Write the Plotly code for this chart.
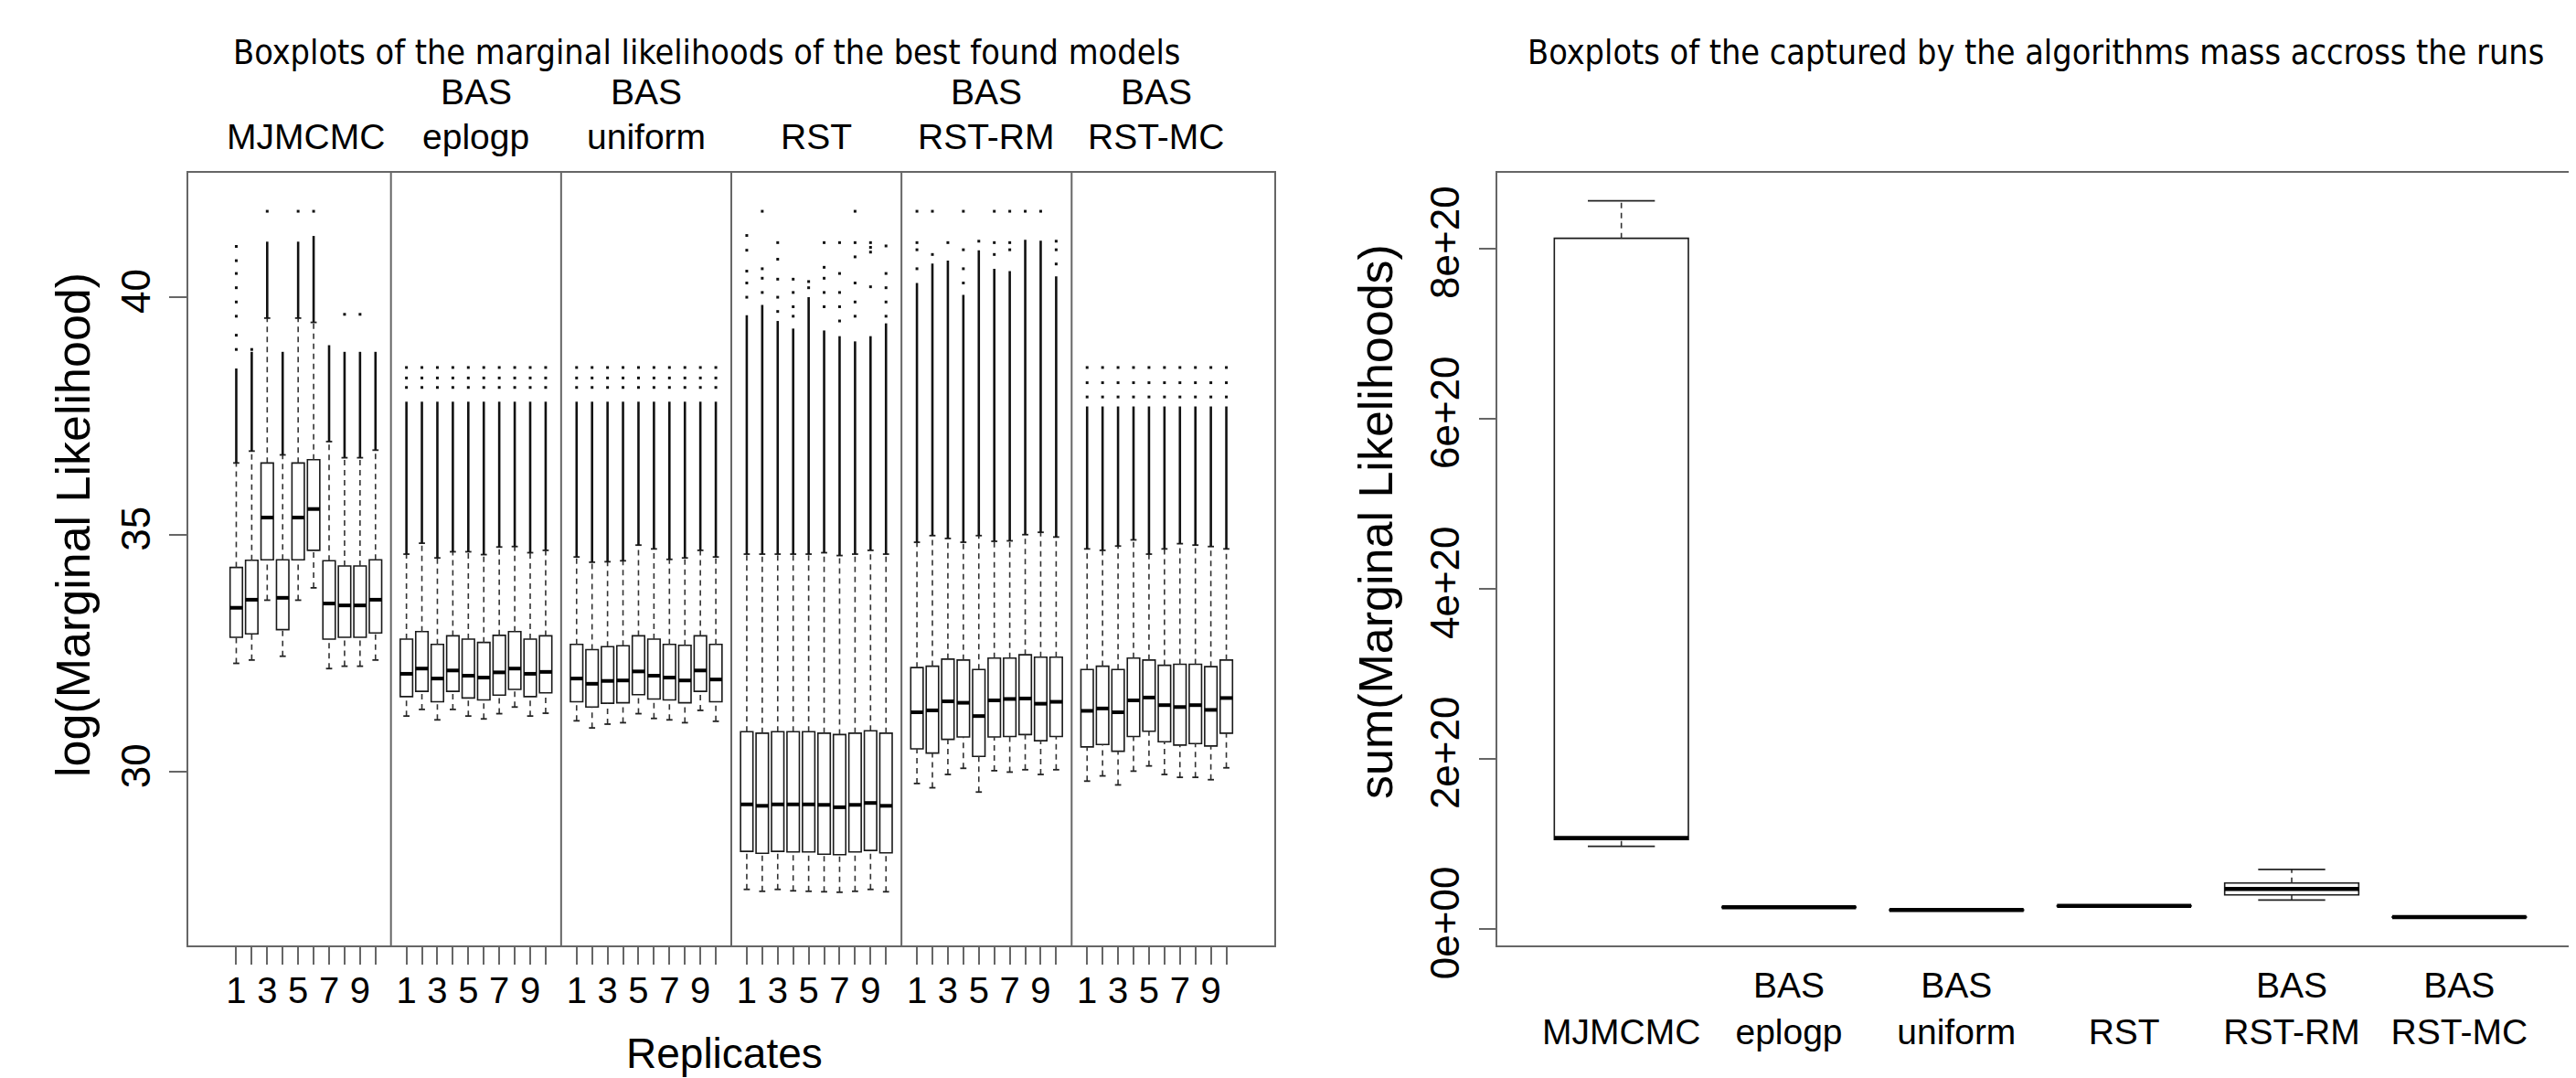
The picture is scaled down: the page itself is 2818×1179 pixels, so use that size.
import plotly.graph_objects as go

# ---------------- data: left panel (log marginal likelihoods, 6 algorithms x 10 replicates) ----------------
group_line1 = ["", "BAS", "BAS", "", "BAS", "BAS"]
group_line2 = ["MJMCMC", "eplogp", "uniform", "RST", "RST-RM", "RST-MC"]
replicates = [1, 2, 3, 4, 5, 6, 7, 8, 9, 10]
labelled_replicates = [1, 3, 5, 7, 9]

lw = [32.29, 32.36, 33.62, 32.44, 33.62, 33.88, 32.18, 32.23, 32.23, 32.36,
      31.18, 31.32, 31.10, 31.32, 31.18, 31.12, 31.23, 31.37, 31.18, 31.24,
      31.08, 30.93, 31.01, 31.04, 31.23, 31.13, 31.10, 31.04, 31.30, 31.07,
      27.53, 27.49, 27.53, 27.50, 27.49, 27.48, 27.47, 27.49, 27.53, 27.48,
      29.76, 29.67, 29.95, 30.08, 29.58, 30.03, 30.00, 30.05, 29.95, 30.05,
      29.81, 29.92, 29.73, 30.02, 30.13, 29.95, 29.89, 29.89, 29.84, 30.09]
q1 = [32.84, 32.91, 34.47, 33.00, 34.47, 34.67, 32.80, 32.84, 32.84, 32.93,
      31.59, 31.70, 31.48, 31.70, 31.56, 31.52, 31.62, 31.74, 31.59, 31.67,
      31.48, 31.37, 31.45, 31.46, 31.63, 31.54, 31.52, 31.46, 31.70, 31.48,
      28.33, 28.29, 28.33, 28.32, 28.32, 28.27, 28.26, 28.32, 28.35, 28.30,
      30.49, 30.40, 30.69, 30.74, 30.33, 30.74, 30.75, 30.79, 30.66, 30.75,
      30.53, 30.58, 30.44, 30.75, 30.86, 30.64, 30.57, 30.60, 30.55, 30.82]
med = [33.46, 33.63, 35.36, 33.67, 35.36, 35.54, 33.55, 33.51, 33.51, 33.63,
       32.07, 32.18, 31.97, 32.14, 32.03, 31.99, 32.10, 32.18, 32.07, 32.11,
       31.97, 31.86, 31.92, 31.93, 32.12, 32.03, 31.99, 31.93, 32.14, 31.95,
       29.32, 29.29, 29.32, 29.32, 29.32, 29.31, 29.26, 29.31, 29.35, 29.29,
       31.26, 31.30, 31.49, 31.46, 31.18, 31.51, 31.54, 31.55, 31.44, 31.48,
       31.29, 31.34, 31.26, 31.51, 31.57, 31.41, 31.37, 31.41, 31.31, 31.56]
q3 = [34.31, 34.46, 36.51, 34.47, 36.51, 36.58, 34.45, 34.34, 34.34, 34.47,
      32.80, 32.96, 32.69, 32.87, 32.80, 32.73, 32.88, 32.96, 32.80, 32.87,
      32.69, 32.58, 32.64, 32.66, 32.87, 32.80, 32.69, 32.67, 32.87, 32.69,
      30.85, 30.82, 30.85, 30.85, 30.85, 30.82, 30.79, 30.82, 30.87, 30.82,
      32.20, 32.23, 32.38, 32.36, 32.16, 32.40, 32.40, 32.47, 32.42, 32.42,
      32.16, 32.23, 32.16, 32.40, 32.36, 32.25, 32.27, 32.27, 32.22, 32.36]
uw = [36.51, 36.76, 39.56, 36.68, 39.56, 39.47, 36.96, 36.62, 36.62, 36.78,
      34.59, 34.82, 34.51, 34.64, 34.64, 34.58, 34.74, 34.75, 34.62, 34.67,
      34.53, 34.42, 34.43, 34.45, 34.78, 34.70, 34.48, 34.51, 34.67, 34.53,
      34.59, 34.59, 34.59, 34.59, 34.59, 34.62, 34.56, 34.59, 34.67, 34.59,
      34.84, 34.98, 34.92, 34.84, 34.98, 34.86, 34.87, 35.00, 35.05, 34.95,
      34.70, 34.67, 34.76, 34.89, 34.59, 34.70, 34.81, 34.78, 34.75, 34.70]
# top of the dense (visually continuous) run of outliers
dense_top = [38.50, 38.85, 41.17, 38.85, 41.17, 41.29, 38.99, 38.85, 38.85, 38.85,
             37.80, 37.80, 37.80, 37.80, 37.80, 37.80, 37.80, 37.80, 37.80, 37.80,
             37.80, 37.80, 37.80, 37.80, 37.80, 37.80, 37.80, 37.80, 37.80, 37.80,
             39.62, 39.84, 39.50, 39.34, 40.00, 39.30, 39.18, 39.07, 39.18, 39.45,
             40.30, 40.71, 40.77, 40.05, 40.99, 40.60, 40.55, 41.21, 41.19, 40.44,
             37.70, 37.70, 37.70, 37.70, 37.70, 37.70, 37.70, 37.70, 37.70, 37.70]
# isolated outliers above the dense run
sparse_out = [
    [41.07, 40.77, 40.5, 40.2, 39.9, 39.6, 39.2, 38.9], [38.9], [41.81], [], [41.81],
    [41.81], [], [39.64], [39.64], [],
    [38.52, 38.3, 38.1], [38.52, 38.3, 38.1], [38.52, 38.3, 38.1], [38.52, 38.3, 38.1], [38.52, 38.3, 38.1],
    [38.52, 38.3, 38.1], [38.52, 38.3, 38.1], [38.52, 38.3, 38.1], [38.52, 38.3, 38.1], [38.52, 38.3, 38.1],
    [38.52, 38.3, 38.1], [38.52, 38.3, 38.1], [38.52, 38.3, 38.1], [38.52, 38.3, 38.1], [38.52, 38.3, 38.1],
    [38.52, 38.3, 38.1], [38.52, 38.3, 38.1], [38.52, 38.3, 38.1], [38.52, 38.3, 38.1], [38.52, 38.3, 38.1],
    [41.30, 40.99, 40.55, 40.3, 40.0], [41.81, 40.6, 40.4, 40.1], [41.15, 40.8, 40.38, 40.0, 39.7],
    [40.38, 40.1, 39.8, 39.6], [40.33, 40.2], [41.15, 40.63, 40.4, 40.1, 39.8],
    [41.15, 40.5, 40.1, 39.8, 39.5], [41.81, 41.15, 40.85, 40.3, 39.9, 39.6],
    [41.15, 41.05, 40.95, 40.22], [41.08, 40.5, 40.2, 39.9, 39.6],
    [41.81, 41.15, 41.0, 40.6], [41.81, 40.9], [41.15], [41.81, 41.0, 40.6, 40.3], [41.18],
    [41.81, 41.15, 40.9], [41.81, 41.15, 41.0], [41.81], [41.81], [41.18, 41.0, 40.7],
    [38.52, 38.2, 37.9], [38.52, 38.2, 37.9], [38.52, 38.2, 37.9], [38.52, 38.2, 37.9], [38.52, 38.2, 37.9],
    [38.52, 38.2, 37.9], [38.52, 38.2, 37.9], [38.52, 38.2, 37.9], [38.52, 38.2, 37.9], [38.52, 38.2, 37.9],
]

# ---------------- data: right panel (captured mass) ----------------
algos = ["<br>MJMCMC", "BAS<br>eplogp", "BAS<br>uniform", "<br>RST", "BAS<br>RST-RM", "BAS<br>RST-MC"]
mass_lw = [0.97e20, 0.248e20, 0.215e20, 0.265e20, 0.34e20, 0.135e20]
mass_q1 = [1.05e20, 0.252e20, 0.218e20, 0.268e20, 0.40e20, 0.138e20]
mass_med = [1.07e20, 0.255e20, 0.222e20, 0.270e20, 0.47e20, 0.140e20]
mass_q3 = [8.12e20, 0.258e20, 0.226e20, 0.273e20, 0.54e20, 0.142e20]
mass_uw = [8.56e20, 0.262e20, 0.230e20, 0.277e20, 0.70e20, 0.145e20]
mass_ticks = [0, 2e20, 4e20, 6e20, 8e20]
mass_tick_text = ["0e+00", "2e+20", "4e+20", "6e+20", "8e+20"]

# ---------------- styling ----------------
W, H = 2818, 1179
OFF = 8  # page body margin of the rendered html
FONT = "Liberation Sans, Arial, Helvetica, sans-serif"
TFONT = "DejaVu Sans Condensed, DejaVu Sans, sans-serif"
FRAME = "#666666"
BOXW = 0.8

n_rep = len(replicates)
n_grp = len(group_line2)
pos = [g * (n_rep + 1) + r for g in range(n_grp) for r in replicates]
lab_pos = [g * (n_rep + 1) + r for g in range(n_grp) for r in labelled_replicates]
lab_txt = [str(r) for g in range(n_grp) for r in labelled_replicates]
unlab_pos = [p for p in pos if p not in lab_pos]
group_centers = [sum(pos[g * n_rep:(g + 1) * n_rep]) / n_rep for g in range(n_grp)]
separators = [g * (n_rep + 1) + n_rep + 1 for g in range(n_grp - 1)]


def px_x(p):
    return (p - OFF) / W


def px_y(p):
    return 1 - (p - OFF) / H


fig = go.Figure()


def add_boxes(xs, lo, a, m, b, hi, xa, ya, bw, medw, dense=None, sparse=None):
    fig.add_trace(go.Box(
        x=xs, q1=a, median=m, q3=b, lowerfence=a, upperfence=b,
        width=bw, whiskerwidth=0, boxpoints=False,
        line=dict(color="#1a1a1a", width=1.6), fillcolor="white",
        xaxis=xa, yaxis=ya, showlegend=False, hoverinfo="skip"))
    # dashed whiskers
    wx, wy = [], []
    for x, l, q, t, u in zip(xs, lo, a, b, hi):
        wx += [x, x, None, x, x, None]
        wy += [l, q, None, t, u, None]
    fig.add_trace(go.Scatter(x=wx, y=wy, mode="lines", xaxis=xa, yaxis=ya,
                             line=dict(color="#333333", width=1.6, dash="6px,5px"),
                             showlegend=False, hoverinfo="skip"))
    # staples
    sx, sy = [], []
    for x, l, u in zip(xs, lo, hi):
        sx += [x - bw / 4, x + bw / 4, None, x - bw / 4, x + bw / 4, None]
        sy += [l, l, None, u, u, None]
    fig.add_trace(go.Scatter(x=sx, y=sy, mode="lines", xaxis=xa, yaxis=ya,
                             line=dict(color="#222222", width=1.8),
                             showlegend=False, hoverinfo="skip"))
    # medians
    mx, my = [], []
    for x, v in zip(xs, m):
        mx += [x - bw / 2, x + bw / 2, None]
        my += [v, v, None]
    fig.add_trace(go.Scatter(x=mx, y=my, mode="lines", xaxis=xa, yaxis=ya,
                             line=dict(color="black", width=medw),
                             showlegend=False, hoverinfo="skip"))
    if dense is not None:
        dx, dy = [], []
        for x, u, d in zip(xs, hi, dense):
            dx += [x, x, None]
            dy += [u, d, None]
        fig.add_trace(go.Scatter(x=dx, y=dy, mode="lines", xaxis=xa, yaxis=ya,
                                 line=dict(color="#111111", width=2.6),
                                 showlegend=False, hoverinfo="skip"))
        ox, oy = [], []
        for x, s in zip(xs, sparse):
            for v in s:
                ox.append(x)
                oy.append(v)
        fig.add_trace(go.Scatter(x=ox, y=oy, mode="markers", xaxis=xa, yaxis=ya,
                                 marker=dict(color="#111111", size=3, symbol="square"),
                                 showlegend=False, hoverinfo="skip"))


add_boxes(pos, lw, q1, med, q3, uw, "x", "y", BOXW, 4, dense_top, sparse_out)
rpos = list(range(1, len(algos) + 1))
add_boxes(rpos, mass_lw, mass_q1, mass_med, mass_q3, mass_uw, "x2", "y2", BOXW, 4.5)

# group separators in left panel
for s in separators:
    fig.add_shape(type="line", xref="x", yref="paper", x0=s, x1=s,
                  y0=px_y(1034), y1=px_y(189), line=dict(color=FRAME, width=2))

# group labels above left panel
for gc, l1, l2 in zip(group_centers, group_line1, group_line2):
    if l1:
        fig.add_annotation(x=gc, xref="x", y=px_y(100), yref="paper", text=l1,
                           showarrow=False, font=dict(family=FONT, size=39, color="black"),
                           xanchor="center", yanchor="middle")
    fig.add_annotation(x=gc, xref="x", y=px_y(149), yref="paper", text=l2,
                       showarrow=False, font=dict(family=FONT, size=39, color="black"),
                       xanchor="center", yanchor="middle")

# titles
fig.add_annotation(x=px_x(773), y=px_y(57), xref="paper", yref="paper",
                   text="Boxplots of the marginal likelihoods of the best found models",
                   showarrow=False, font=dict(family=TFONT, size=37.5, color="black"),
                   xanchor="center", yanchor="middle")
fig.add_annotation(x=px_x(2227), y=px_y(57), xref="paper", yref="paper",
                   text="Boxplots of the captured by the algorithms mass accross the runs",
                   showarrow=False, font=dict(family=TFONT, size=37.5, color="black"),
                   xanchor="center", yanchor="middle")
# axis titles
fig.add_annotation(x=px_x(792), y=px_y(1152), xref="paper", yref="paper", text="Replicates",
                   showarrow=False, font=dict(family=FONT, size=46, color="black"),
                   xanchor="center", yanchor="middle")
fig.add_annotation(x=px_x(80), y=px_y(574), xref="paper", yref="paper",
                   text="log(Marginal Likelihood)", textangle=-90,
                   showarrow=False, font=dict(family=FONT, size=52, color="black"),
                   xanchor="center", yanchor="middle")
fig.add_annotation(x=px_x(1505), y=px_y(571), xref="paper", yref="paper",
                   text="sum(Marginal Likelihoods)", textangle=-90,
                   showarrow=False, font=dict(family=FONT, size=52, color="black"),
                   xanchor="center", yanchor="middle")

ydom = [px_y(1034), px_y(189)]
fig.update_layout(
    width=W, height=H, margin=dict(l=0, r=0, t=0, b=0, pad=0, autoexpand=False),
    paper_bgcolor="white", plot_bgcolor="white", showlegend=False,
    boxmode="overlay",
    xaxis=dict(domain=[px_x(206), px_x(1394)], range=[-2.1, 68.1], automargin=False,
               tickmode="array", tickvals=lab_pos, ticktext=lab_txt,
               ticks="outside", ticklen=19, tickwidth=2, tickcolor=FRAME,
               ticklabelstandoff=-6,
               minor=dict(tickmode="array", tickvals=unlab_pos, ticks="outside",
                          ticklen=19, tickwidth=2, tickcolor=FRAME, showgrid=False),
               showline=True, mirror=True, linecolor=FRAME, linewidth=2,
               showgrid=False, zeroline=False,
               tickfont=dict(family=FONT, size=40, color="black"), tickangle=0),
    yaxis=dict(domain=ydom, range=[26.35, 42.62], automargin=False,
               tickmode="array", tickvals=[30, 35, 40],
               ticks="outside", ticklen=19, tickwidth=2, tickcolor=FRAME,
               ticklabelstandoff=3,
               showline=True, mirror=True, linecolor=FRAME, linewidth=2,
               showgrid=False, zeroline=False, tickangle=-90,
               tickfont=dict(family=FONT, size=44, color="black")),
    xaxis2=dict(domain=[px_x(1638), 1.0], range=[0.26, 6.74], anchor="y2", automargin=False,
                tickmode="array", tickvals=rpos, ticktext=algos, ticks="",
                ticklabelstandoff=8,
                showline=True, mirror=True, linecolor=FRAME, linewidth=2,
                showgrid=False, zeroline=False, tickangle=0,
                tickfont=dict(family=FONT, size=39, color="black")),
    yaxis2=dict(domain=ydom, range=[-0.194e20, 8.89e20], anchor="x2", automargin=False,
                tickmode="array", tickvals=mass_ticks, ticktext=mass_tick_text,
                ticks="outside", ticklen=18, tickwidth=2, tickcolor=FRAME,
                ticklabelstandoff=4,
                showline=True, mirror=False, linecolor=FRAME, linewidth=2,
                showgrid=False, zeroline=False, tickangle=-90,
                tickfont=dict(family=FONT, size=44, color="black")),
)

fig.write_html("out.html")
